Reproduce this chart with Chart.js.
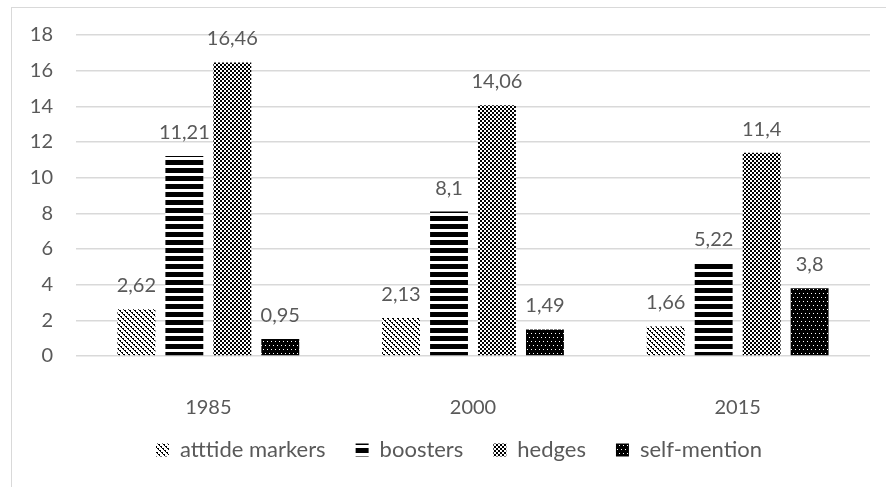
<!DOCTYPE html>
<html>
<head>
<meta charset="utf-8">
<script src="https://cdn.jsdelivr.net/npm/chart.js@4.4.1/dist/chart.umd.min.js"></script>
<style>
  html, body { margin: 0; padding: 0; background: #ffffff; overflow: hidden; }
  #frame { position: absolute; left: 11px; top: 7px; width: 880px; height: 490px;
           border-left: 1px solid #d9d9d9; border-top: 1px solid #d9d9d9; background: #fff; }
  #c { position: absolute; left: 0; top: 0; }
</style>
</head>
<body>
<div id="frame"><canvas id="c" width="874" height="480"></canvas></div>
<script>
const categories = ['1985', '2000', '2015'];
const seriesNames = ['atttide markers', 'boosters', 'hedges', 'self-mention'];
const attitudeMarkers = [2.62, 2.13, 1.66];
const boosters = [11.21, 8.1, 5.22];
const hedges = [16.46, 14.06, 11.4];
const selfMention = [0.95, 1.49, 3.8];
const yTicks = [0, 2, 4, 6, 8, 10, 12, 14, 16, 18];

function makePattern(w, h, bg, fg, isOn) {
  const c = document.createElement('canvas');
  c.width = w; c.height = h;
  const g = c.getContext('2d');
  g.fillStyle = bg; g.fillRect(0, 0, w, h);
  g.fillStyle = fg;
  for (let y = 0; y < h; y++) for (let x = 0; x < w; x++) if (isOn(x, y)) g.fillRect(x, y, 1, 1);
  return document.createElement('canvas').getContext('2d').createPattern(c, 'repeat');
}
const patDiag = makePattern(10, 10, '#ffffff', '#000000',
  (x, y) => ((x - y + 20) % 5 === 0) || (((x - y + 20) % 5 === 1) && y % 2 === 0));
const patStripes = makePattern(8, 8, '#ffffff', '#000000', (x, y) => y < 5);
const patChecker = makePattern(4, 4, '#ffffff', '#000000', (x, y) => ((Math.floor(x / 2) + Math.floor(y / 2)) % 2 === 0));
const patDots = makePattern(8, 8, '#000000', '#ffffff', (x, y) => (x % 4 === 1 && y === 1) || (x % 4 === 3 && y === 5));

const fontFamily = 'Lato, "Open Sans", sans-serif';
const textColor = '#595959';

function fmt(v) { return String(v).replace('.', ','); }

const valueLabels = {
  id: 'valueLabels',
  afterDatasetsDraw(chart) {
    const ctx = chart.ctx;
    ctx.save();
    ctx.font = '20px ' + fontFamily;
    ctx.fillStyle = textColor;
    ctx.textAlign = 'center';
    ctx.textBaseline = 'alphabetic';
    chart.data.datasets.forEach((ds, di) => {
      const meta = chart.getDatasetMeta(di);
      meta.data.forEach((bar, i) => {
        ctx.fillText(fmt(ds.data[i]), bar.x, bar.y - 17);
      });
    });
    ctx.restore();
  }
};

const legendShift = {
  id: 'legendShift',
  afterLayout(chart) {
    const l = chart.legend;
    if (!l) return;
    l.top -= 17; l.bottom -= 17;
    l.left += 18; l.right += 18;
  }
};

const mk = (label, data, pat) => ({
  label, data, backgroundColor: pat, borderWidth: 0,
  categoryPercentage: 0.725, barPercentage: 0.79
});

new Chart(document.getElementById('c'), {
  type: 'bar',
  data: {
    labels: categories,
    datasets: [
      mk(seriesNames[0], attitudeMarkers, patDiag),
      mk(seriesNames[1], boosters, patStripes),
      mk(seriesNames[2], hedges, patChecker),
      mk(seriesNames[3], selfMention, patDots)
    ]
  },
  options: {
    responsive: false,
    animation: false,
    devicePixelRatio: 1,
    layout: { padding: { left: 0, right: 16, top: 27, bottom: 0 } },
    plugins: {
      legend: {
        position: 'bottom',
        labels: { boxWidth: 13, boxHeight: 13, padding: 30, color: textColor,
                  font: { family: fontFamily, size: 22 } }
      },
      tooltip: { enabled: false }
    },
    scales: {
      x: {
        grid: { display: false, drawTicks: false },
        border: { display: false },
        ticks: { color: textColor, font: { family: fontFamily, size: 20 }, padding: 40 },
        afterFit(s) { s.height = 70; }
      },
      y: {
        min: 0, max: 18,
        afterBuildTicks(s) { s.ticks = yTicks.map(v => ({ value: v })); },
        grid: { color: '#d9d9d9', lineWidth: 1.5, drawTicks: false },
        border: { display: false },
        ticks: { color: textColor, font: { family: fontFamily, size: 20 }, padding: 23 },
        afterFit(s) { s.width = 64; s.paddingTop = 12; s.paddingBottom = 12; }
      }
    }
  },
  plugins: [valueLabels, legendShift]
});
</script>
</body>
</html>
